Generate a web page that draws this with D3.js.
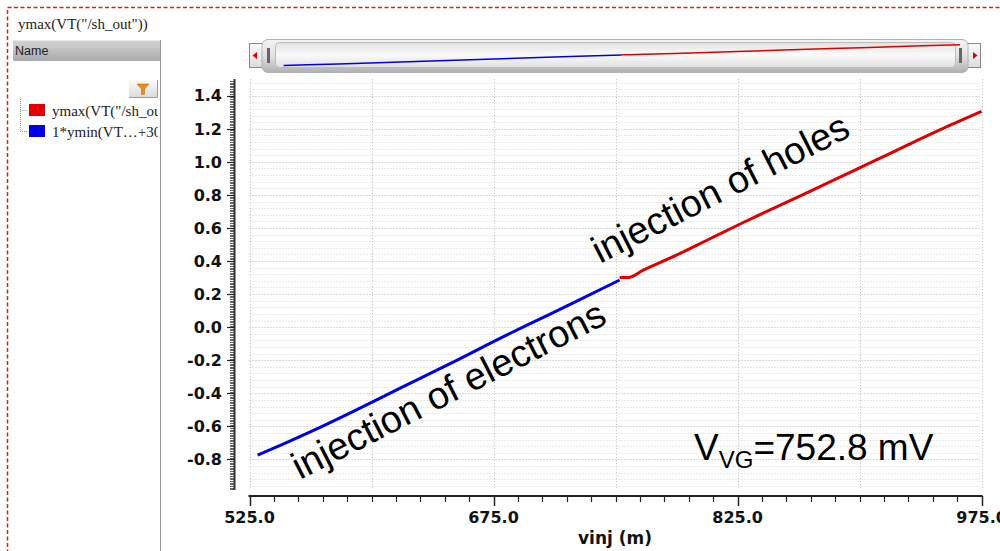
<!DOCTYPE html>
<html><head><meta charset="utf-8">
<script src="https://cdn.jsdelivr.net/npm/d3@7/dist/d3.min.js"></script>
<style>body{margin:0;background:#fff;} svg{display:block;}</style>
</head><body>
<svg id="c" width="1000" height="551"></svg>
<script>
// ---- data ----
const blueX = [530, 546, 566, 587, 617, 648, 683, 703, 724, 752.5];
const blueY = [-0.774, -0.706, -0.617, -0.518, -0.372, -0.222, -0.048, 0.047, 0.147, 0.285];
const redX = [752.5, 757.8, 767, 787.5, 808, 828.5, 849, 869.5, 890, 910, 930, 950, 975];
const redY = [0.301, 0.301, 0.345, 0.436, 0.535, 0.633, 0.728, 0.822, 0.917, 1.010, 1.104, 1.196, 1.305];
const xTickLabels = ["525.0", "675.0", "825.0", "975.0"];
const xTickValues = [525, 675, 825, 975];
const yTickValues = [-0.8, -0.6, -0.4, -0.2, 0.0, 0.2, 0.4, 0.6, 0.8, 1.0, 1.2, 1.4];
const legendNames = ['ymax(VT("/sh_out"))', '1*ymin(VT\u2026+30'];
const legendColors = ["#e00000", "#0000e6"];
const titleText = 'ymax(VT("/sh_out"))';
const xTitle = "vinj (m)";

const svg = d3.select("#c");
const defs = svg.append("defs");

// scales
const x = d3.scaleLinear().domain([525, 975]).range([249.5, 981.6]);
const y = d3.scaleLinear().domain([-0.985, 1.5]).range([490, 79.2]);
const xm = d3.scaleLinear().domain([525, 975]).range([276, 960]);
const ym = d3.scaleLinear().domain([-0.985, 1.5]).range([67.6, 42.8]);

// gradients
function grad(id, stops) {
  const g = defs.append("linearGradient").attr("id", id).attr("x1", 0).attr("y1", 0).attr("x2", 0).attr("y2", 1);
  stops.forEach(s => g.append("stop").attr("offset", s[0]).attr("stop-color", s[1]));
}
grad("hdr", [[0, "#d6d6d6"], [1, "#a9a9a9"]]);
grad("thumb", [[0, "#f4f4f4"], [0.5, "#e2e2e2"], [1, "#b0b0b0"]]);
grad("inner", [[0, "#e2e2e2"], [0.5, "#fafafa"], [1, "#e0e0e0"]]);
grad("btn", [[0, "#fafafa"], [1, "#dcdcdc"]]);

// outer dashed border
svg.append("rect").attr("x", 7.5).attr("y", 7.5).attr("width", 1000).attr("height", 560)
  .attr("fill", "none").attr("stroke", "#e8141e").attr("stroke-width", 1.5).attr("stroke-dasharray", "4,2.5");

// title
svg.append("text").attr("x", 18).attr("y", 29).attr("font-family", "Liberation Serif").attr("font-size", 15)
  .attr("fill", "#222").text(titleText);

// left panel
svg.append("rect").attr("x", 13).attr("y", 40).attr("width", 147).attr("height", 21).attr("fill", "url(#hdr)");
svg.append("line").attr("x1", 13).attr("x2", 160).attr("y1", 40.5).attr("y2", 40.5).attr("stroke", "#e8e8e8");
svg.append("text").attr("x", 15).attr("y", 55).attr("font-family", "Liberation Sans").attr("font-size", 12.5)
  .attr("fill", "#222").text("Name");
svg.append("line").attr("x1", 160.5).attr("x2", 160.5).attr("y1", 40).attr("y2", 551).attr("stroke", "#9a9a9a");

// filter button
svg.append("rect").attr("x", 129).attr("y", 80).attr("width", 28).attr("height", 17).attr("fill", "url(#btn)");
svg.append("path").attr("d", "M129,97.5H157.5V80").attr("fill", "none").attr("stroke", "#9a9a9a");
svg.append("path").attr("d", "M137,84H149L144.5,89V94.5H141.5V89Z").attr("fill", "#e8901e").attr("stroke", "#c06a10").attr("stroke-width", 0.6);

// tree lines
const tree = svg.append("g").attr("stroke", "#999").attr("stroke-dasharray", "1,1").attr("fill", "none");
tree.append("path").attr("d", "M20.5,99V131.5H28M20.5,110.5H28");

// legend
const clip = defs.append("clipPath").attr("id", "lclip");
clip.append("rect").attr("x", 0).attr("y", 60).attr("width", 158).attr("height", 100);
const leg = svg.append("g").attr("clip-path", "url(#lclip)");
legendNames.forEach((n, i) => {
  const yy = 104 + i * 21;
  leg.append("rect").attr("x", 29).attr("y", yy).attr("width", 16).attr("height", 12).attr("fill", legendColors[i]);
  leg.append("text").attr("x", 52).attr("y", yy + 11.5).attr("font-family", "Liberation Serif").attr("font-size", 15)
    .attr("fill", "#222").text(n);
});

// scrollbar
const sb = svg.append("g");
sb.append("rect").attr("x", 249.5).attr("y", 43.5).attr("width", 13).attr("height", 24).attr("fill", "url(#btn)").attr("stroke", "#8a8a8a");
sb.append("rect").attr("x", 967.5).attr("y", 43.5).attr("width", 13).attr("height", 24).attr("fill", "url(#btn)").attr("stroke", "#8a8a8a");
sb.append("path").attr("d", "M252.5,55.5L257,52V59Z").attr("fill", "#e00000");
sb.append("path").attr("d", "M977.5,55.5L973,52V59Z").attr("fill", "#e00000");
sb.append("rect").attr("x", 262).attr("y", 39.5).attr("width", 706).attr("height", 33).attr("rx", 6)
  .attr("fill", "url(#thumb)").attr("stroke", "#aeb2b6");
sb.append("rect").attr("x", 275.5).attr("y", 42.5).attr("width", 680).attr("height", 25).attr("rx", 4)
  .attr("fill", "url(#inner)").attr("stroke", "#bcbcbc");
sb.append("rect").attr("x", 267).attr("y", 48).attr("width", 3).attr("height", 15).attr("fill", "#666");
sb.append("rect").attr("x", 959).attr("y", 48).attr("width", 3).attr("height", 15).attr("fill", "#666");
const mline = d3.line().x(d => xm(d[0])).y(d => ym(d[1]));
sb.append("path").attr("d", mline(blueX.map((v, i) => [v, blueY[i]]))).attr("fill", "none").attr("stroke", "#0000e6").attr("stroke-width", 1.5);
sb.append("path").attr("d", mline(redX.map((v, i) => [v, redY[i]]))).attr("fill", "none").attr("stroke", "#e00000").attr("stroke-width", 1.5);

// grid
const grid = svg.append("g").attr("fill", "none");
const hv = d3.range(-0.96, 1.5, 0.04).map(v => +v.toFixed(2));
hv.forEach(v => {
  const major = Math.abs(Math.round(v * 5) - v * 5) < 1e-6;
  grid.append("line").attr("x1", x(525)).attr("x2", x(975)).attr("y1", Math.round(y(v)) + 0.5).attr("y2", Math.round(y(v)) + 0.5)
    .attr("stroke", major ? "#b4b4b4" : "#d2d2d2").attr("stroke-dasharray", "1,2");
});
d3.range(525, 976, 75).forEach(v => {
  grid.append("line").attr("x1", Math.round(x(v)) + 0.5).attr("x2", Math.round(x(v)) + 0.5).attr("y1", y(1.5)).attr("y2", y(-0.985))
    .attr("stroke", "#bcbcbc").attr("stroke-dasharray", "1,2");
});

// y axis
const ya = svg.append("g");
d3.range(-0.98, 1.5, 0.01).forEach(v => {
  ya.append("line").attr("x1", 230).attr("x2", 235).attr("y1", Math.round(y(v)) + 0.5).attr("y2", Math.round(y(v)) + 0.5)
    .attr("stroke", "#666").attr("stroke-width", 1);
});
ya.append("line").attr("x1", 234.5).attr("x2", 234.5).attr("y1", 79).attr("y2", 490).attr("stroke", "#333").attr("stroke-width", 2);
yTickValues.forEach(v => {
  ya.append("line").attr("x1", 227).attr("x2", 235).attr("y1", Math.round(y(v)) + 0.5).attr("y2", Math.round(y(v)) + 0.5).attr("stroke", "#222").attr("stroke-width", 1.2);
  ya.append("text").attr("x", 222).attr("y", y(v)).attr("dy", "0.36em").attr("text-anchor", "end")
    .attr("font-family", "DejaVu Sans").attr("font-weight", "bold").attr("font-size", 16).attr("fill", "#111")
    .text(v.toFixed(1));
});

// x axis
const xa = svg.append("g");
xa.append("line").attr("x1", x(525) - 1).attr("x2", x(975) + 1).attr("y1", 496).attr("y2", 496).attr("stroke", "#222").attr("stroke-width", 2);
d3.range(525, 976, 15).forEach(v => {
  const major = xTickValues.includes(v);
  xa.append("line").attr("x1", Math.round(x(v)) + 0.5).attr("x2", Math.round(x(v)) + 0.5).attr("y1", 496).attr("y2", major ? 506 : 502)
    .attr("stroke", "#222").attr("stroke-width", major ? 1.5 : 1.2);
});
xTickValues.forEach((v, i) => {
  xa.append("text").attr("x", x(v)).attr("y", 523).attr("text-anchor", "middle")
    .attr("font-family", "DejaVu Sans").attr("font-weight", "bold").attr("font-size", 16).attr("fill", "#111")
    .text(xTickLabels[i]);
});
xa.append("text").attr("x", 615).attr("y", 544).attr("text-anchor", "middle")
  .attr("font-family", "DejaVu Sans").attr("font-weight", "bold").attr("font-size", 17).attr("fill", "#111").text(xTitle);

// curves
const line = d3.line().x(d => x(d[0])).y(d => y(d[1])).curve(d3.curveMonotoneX);
svg.append("path").attr("d", line(blueX.map((v, i) => [v, blueY[i]]))).attr("fill", "none").attr("stroke", "#0000e6").attr("stroke-width", 3);
svg.append("path").attr("d", line(redX.map((v, i) => [v, redY[i]]))).attr("fill", "none").attr("stroke", "#e00000").attr("stroke-width", 3);

// annotations
svg.append("text").attr("transform", "translate(600,264) rotate(-27)").attr("font-family", "Liberation Sans").attr("font-size", 38)
  .attr("fill", "#000").text("injection of holes");
svg.append("text").attr("transform", "translate(300,480) rotate(-27)").attr("font-family", "Liberation Sans").attr("font-size", 38)
  .attr("fill", "#000").text("injection of electrons");
const vt = svg.append("text").attr("x", 694).attr("y", 460).attr("font-family", "Liberation Sans").attr("font-size", 37).attr("fill", "#000");
vt.append("tspan").text("V");
vt.append("tspan").attr("font-size", 24).attr("dy", 8).text("VG");
vt.append("tspan").attr("dy", -8).text("=752.8 mV");
</script>
</body></html>
